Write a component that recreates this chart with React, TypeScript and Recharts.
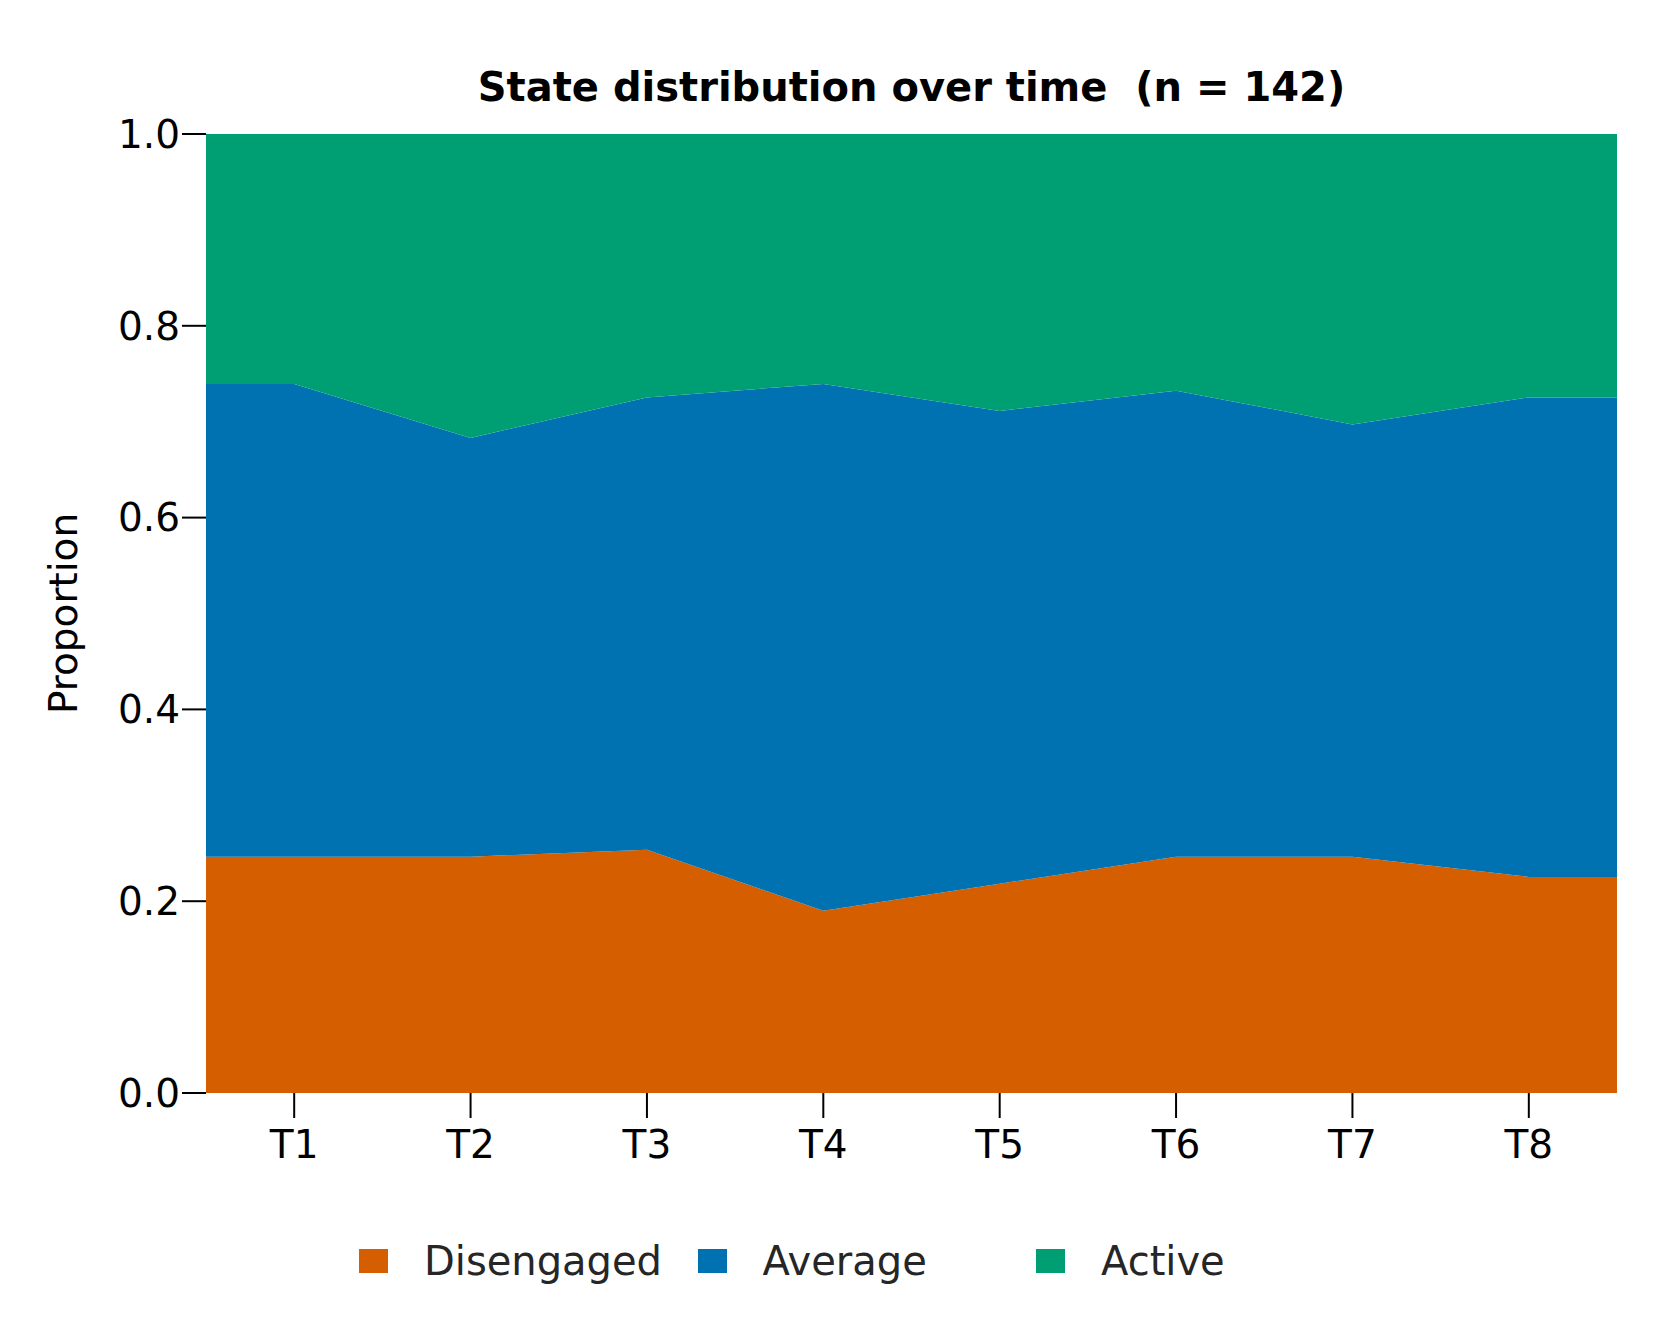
import React from 'react';
import { AreaChart, Area, XAxis, YAxis, Legend, Customized } from 'recharts';

const N = 142;
const timePoints = ['T1', 'T2', 'T3', 'T4', 'T5', 'T6', 'T7', 'T8'];
const disengagedCounts = [35, 35, 36, 27, 31, 35, 35, 32];
const averageCounts = [70, 62, 67, 78, 70, 69, 64, 71];
const activeCounts = [37, 45, 39, 37, 41, 38, 43, 39];
const yTicks = [0, 0.2, 0.4, 0.6, 0.8, 1.0];
const xTicks = [1, 2, 3, 4, 5, 6, 7, 8];

const seriesInfo = [
  { key: 'Disengaged', color: '#D55E00' },
  { key: 'Average', color: '#0072B2' },
  { key: 'Active', color: '#009E73' },
];

const row = (x: number, i: number) => ({
  x,
  Disengaged: disengagedCounts[i] / N,
  Average: averageCounts[i] / N,
  Active: activeCounts[i] / N,
});

// The areas extend half a step beyond the first and last time points (flat).
const data = [
  row(0.5, 0),
  ...timePoints.map((_, i) => row(i + 1, i)),
  row(timePoints.length + 0.5, timePoints.length - 1),
];

const FONT = 'DejaVu Sans';

const renderLegend = () => (
  <div style={{ position: 'relative', width: 1617, height: 80 }}>
    {seriesInfo.map((s, i) => (
      <div
        key={s.key}
        style={{
          position: 'absolute',
          left: 359 + i * 338.5,
          top: 20,
          height: 40,
          display: 'flex',
          alignItems: 'center',
        }}
      >
        <div style={{ width: 29, height: 24, background: s.color }} />
        <span
          style={{
            marginLeft: 36,
            fontSize: 40,
            lineHeight: '40px',
            color: '#262626',
            fontFamily: FONT,
            whiteSpace: 'nowrap',
          }}
        >
          {s.key}
        </span>
      </div>
    ))}
  </div>
);

const Texts = () => (
  <g>
    <text
      x={911.5}
      y={101}
      textAnchor="middle"
      fontSize={40}
      fontWeight="bold"
      fontFamily={FONT}
      fill="#000"
      style={{ whiteSpace: 'pre' }}
    >
      {'State distribution over time  (n = 142)'}
    </text>
    <text
      x={77}
      y={613.5}
      transform="rotate(-90, 77, 613.5)"
      textAnchor="middle"
      fontSize={39}
      fontFamily={FONT}
      fill="#000"
    >
      Proportion
    </text>
  </g>
);

export default function App() {
  return (
    <div
      style={{
        position: 'absolute',
        left: 0,
        top: 0,
        width: 1680,
        height: 1320,
        background: '#fff',
        fontFamily: FONT,
      }}
    >
      <AreaChart
        width={1680}
        height={1320}
        data={data}
        margin={{ top: 134, right: 63, left: 0, bottom: 19 }}
      >
        <XAxis
          dataKey="x"
          type="number"
          domain={[0.5, 8.5]}
          ticks={xTicks}
          tickFormatter={(v: number) => timePoints[v - 1]}
          axisLine={false}
          tickLine={{ stroke: '#000', strokeWidth: 2 }}
          tickSize={25}
          tickMargin={12}
          height={128}
          allowDataOverflow
          tick={{ fontSize: 39, fill: '#000', fontFamily: FONT }}
        />
        <YAxis
          type="number"
          domain={[0, 1]}
          ticks={yTicks}
          tickFormatter={(v: number) => v.toFixed(1)}
          axisLine={false}
          tickLine={{ stroke: '#000', strokeWidth: 2 }}
          tickSize={24}
          tickMargin={2}
          width={206}
          allowDataOverflow
          tick={{ fontSize: 39, fill: '#000', fontFamily: FONT }}
        />
        {seriesInfo.map((s) => (
          <Area
            key={s.key}
            type="linear"
            dataKey={s.key}
            stackId="1"
            stroke="none"
            fill={s.color}
            fillOpacity={1}
            isAnimationActive={false}
            dot={false}
            activeDot={false}
          />
        ))}
        <Legend verticalAlign="bottom" content={renderLegend} />
        <Customized component={<Texts />} />
      </AreaChart>
    </div>
  );
}
